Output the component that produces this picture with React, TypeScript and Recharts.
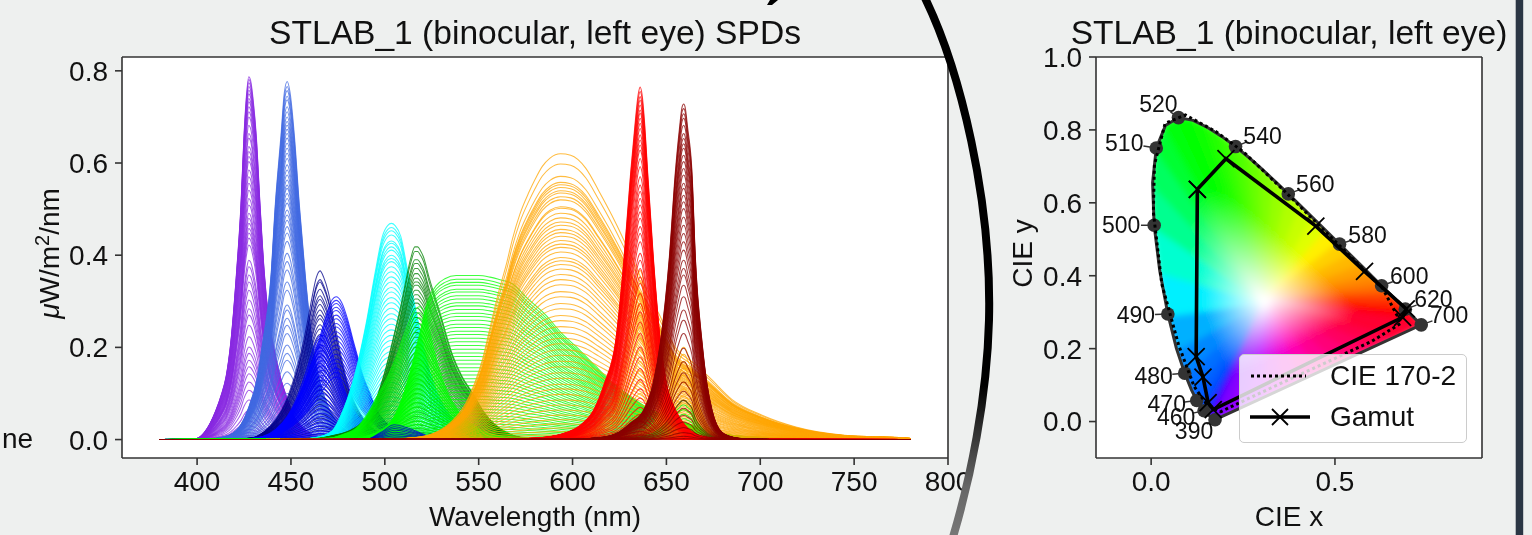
import React from 'react';
import { Label, Legend, Line, LineChart, CartesianGrid, Scatter, ScatterChart, XAxis, YAxis } from 'recharts';

const FONT = '"Liberation Sans", Arial, sans-serif';
const INK = '#111';
const FRAME = '#333';
const BG = '#eef0ef';

const spdTicksX = [400, 450, 500, 550, 600, 650, 700, 750, 800];
const spdTicksY = [0, 0.2, 0.4, 0.6, 0.8];
const cieTicksX = [0, 0.5];
const cieTicksY = [0, 0.2, 0.4, 0.6, 0.8, 1];

// Band outlines, as (wavelength, fraction of that band's peak)
const violetWl = [380, 395, 400, 404, 407, 410, 413, 415.5, 418, 421, 423.4, 425, 426.5, 427.5, 428.5, 430, 431.5, 433.5, 435.8, 438, 441, 444, 447.5, 452, 458, 465, 480, 780];
const violetBand = [0, 0.001, 0.003, 0.02, 0.045, 0.08, 0.125, 0.175, 0.27, 0.46, 0.65, 0.84, 0.96, 1, 0.99, 0.93, 0.84, 0.65, 0.46, 0.34, 0.25, 0.18, 0.12, 0.06, 0.025, 0.008, 0.001, 0];
const royalWl = [380, 405, 415, 422.5, 427, 432.3, 434.9, 439.4, 441.7, 444.7, 446.5, 448, 449.5, 451.8, 454.4, 457.6, 461.4, 465, 470, 476, 485, 500, 780];
const royalBand = [0, 0.001, 0.008, 0.035, 0.083, 0.18, 0.27, 0.46, 0.66, 0.85, 0.97, 1, 0.97, 0.85, 0.66, 0.46, 0.27, 0.17, 0.09, 0.04, 0.012, 0.002, 0];
const navyWl = [380, 420, 430, 436, 442, 447, 451, 455, 458.5, 461, 463.5, 465.5, 467.5, 470, 473, 477, 481, 486, 492, 500, 510, 780];
const navyBand = [0, 0.002, 0.012, 0.05, 0.12, 0.22, 0.34, 0.5, 0.68, 0.83, 0.96, 1, 0.96, 0.87, 0.7, 0.48, 0.3, 0.17, 0.08, 0.03, 0.008, 0];
const blueHighWl = [380, 425, 435, 442, 448, 454, 460, 465, 469, 472, 474, 477, 480, 483, 485.5, 488, 491.6, 496, 502, 510, 520, 780];
const blueHighBand = [0, 0.003, 0.02, 0.07, 0.16, 0.3, 0.5, 0.7, 0.88, 0.98, 1, 0.96, 0.85, 0.7, 0.58, 0.46, 0.34, 0.2, 0.1, 0.035, 0.008, 0];
const blueLowWl = [380, 425, 435, 442, 448, 453, 458, 462, 465, 467, 470, 474, 478, 483, 489, 496, 505, 520, 780];
const blueLowBand = [0, 0.004, 0.03, 0.1, 0.22, 0.4, 0.65, 0.88, 0.99, 1, 0.92, 0.72, 0.5, 0.3, 0.15, 0.06, 0.02, 0.003, 0];
const blueTailWl = [380, 490, 498, 505, 512, 520, 528, 780];
const blueTailBand = [0, 0, 0.5, 1, 0.8, 0.4, 0.05, 0];
const cyanWl = [380, 455, 465, 472, 478, 484.6, 490, 495.2, 498.7, 501.5, 503.5, 505.5, 508.5, 512, 516.5, 521.8, 526, 530.4, 535, 539.5, 547, 560, 780];
const cyanBand = [0, 0.002, 0.012, 0.04, 0.14, 0.32, 0.535, 0.79, 0.94, 0.99, 1, 0.99, 0.94, 0.79, 0.6, 0.385, 0.26, 0.17, 0.11, 0.065, 0.025, 0.005, 0];
const limeNarrowWl = [380, 470, 478, 485, 491, 495.6, 501, 506, 510, 514, 517, 518.6, 520, 523, 527.5, 533, 540, 548, 558, 575, 780];
const limeNarrowBand = [0, 0.01, 0.04, 0.09, 0.2, 0.32, 0.46, 0.62, 0.78, 0.92, 0.99, 1, 0.98, 0.86, 0.6, 0.37, 0.2, 0.1, 0.035, 0.005, 0];
const limeBroadWl = [380, 480, 495, 505, 512, 518, 523, 527.5, 532, 538, 545, 550, 556, 561, 567.9, 576, 585.6, 594, 603.4, 612, 621, 630, 639, 647, 656.5, 665, 674, 700, 780];
const limeBroadBand = [0, 0.002, 0.04, 0.14, 0.35, 0.62, 0.85, 0.94, 0.98, 1, 1, 1, 0.99, 0.975, 0.95, 0.86, 0.76, 0.65, 0.55, 0.45, 0.35, 0.27, 0.2, 0.155, 0.118, 0.08, 0.045, 0.014, 0];
const greenWl = [380, 460, 472, 482, 490, 495, 500.5, 505.8, 508, 510.3, 513.8, 516, 517.5, 519, 520.5, 523.6, 529, 536, 541, 546.8, 553, 561, 575, 780];
const greenBand = [0, 0.002, 0.02, 0.05, 0.11, 0.2, 0.37, 0.58, 0.67, 0.78, 0.94, 1, 1, 0.98, 0.95, 0.84, 0.67, 0.44, 0.33, 0.24, 0.14, 0.06, 0.01, 0];
const orangeWl = [380, 500, 515, 525.4, 535, 543, 548, 552, 556, 560.8, 565, 567.9, 572, 576.8, 580, 583.9, 588, 593.6, 599, 607, 614, 621, 626.5, 632, 639, 646, 655, 664, 672.5, 685, 701, 719, 745, 779, 780];
const orangeBand = [0, 0.001, 0.006, 0.02, 0.06, 0.125, 0.2, 0.28, 0.39, 0.52, 0.62, 0.7, 0.79, 0.866, 0.91, 0.956, 0.985, 1, 0.995, 0.95, 0.87, 0.784, 0.71, 0.63, 0.53, 0.44, 0.32, 0.27, 0.22, 0.14, 0.085, 0.044, 0.015, 0.005, 0.004];
const redWl = [380, 560, 580, 594.5, 604, 611.3, 617, 622.9, 627.5, 631, 633.2, 635, 636, 637, 638.5, 640, 643, 646.8, 650, 654.8, 660, 665.4, 675, 690, 780];
const redBand = [0, 0.001, 0.004, 0.016, 0.04, 0.084, 0.16, 0.277, 0.52, 0.76, 0.89, 0.98, 1, 0.98, 0.89, 0.76, 0.52, 0.277, 0.16, 0.084, 0.04, 0.016, 0.004, 0.001, 0];
const darkRedWl = [380, 600, 615, 624.7, 631, 637.9, 643, 646.8, 651.6, 654.8, 657, 658.3, 659.2, 660, 661.3, 663.6, 665.4, 669, 671.5, 674.3, 679.5, 686, 691.7, 705, 780];
const darkRedBand = [0, 0.001, 0.006, 0.022, 0.05, 0.088, 0.17, 0.29, 0.546, 0.8, 0.93, 0.99, 1, 0.99, 0.93, 0.8, 0.546, 0.29, 0.17, 0.088, 0.022, 0.006, 0.002, 0.0005, 0];

const violetPeaks = [0.787, 0.781, 0.774, 0.766, 0.758, 0.75, 0.74, 0.733, 0.722, 0.711, 0.7, 0.682, 0.664, 0.654, 0.636, 0.625, 0.614, 0.603, 0.585, 0.57, 0.556, 0.541, 0.523, 0.509, 0.491, 0.48, 0.469, 0.458, 0.448, 0.437, 0.422, 0.389, 0.375, 0.357, 0.342, 0.324, 0.303, 0.284, 0.27, 0.248, 0.223, 0.201, 0.187, 0.172, 0.158, 0.143, 0.125, 0.107, 0.086, 0.064, 0.05, 0.04, 0.03, 0.022, 0.015, 0.009, 0.005, 0.002];
const royalPeaks = [0.777, 0.766, 0.757, 0.745, 0.737, 0.722, 0.711, 0.7, 0.69, 0.682, 0.673, 0.664, 0.654, 0.643, 0.632, 0.621, 0.61, 0.596, 0.585, 0.574, 0.563, 0.552, 0.545, 0.534, 0.523, 0.513, 0.498, 0.487, 0.476, 0.462, 0.448, 0.43, 0.404, 0.386, 0.368, 0.342, 0.324, 0.292, 0.281, 0.263, 0.248, 0.23, 0.205, 0.187, 0.172, 0.147, 0.122, 0.1, 0.085, 0.07, 0.055, 0.042, 0.03, 0.02, 0.012, 0.006, 0.002];
const navyPeaks = [0.366, 0.347, 0.342, 0.326, 0.312, 0.304, 0.293, 0.281, 0.27, 0.262, 0.249, 0.24, 0.228, 0.219, 0.207, 0.2, 0.188, 0.179, 0.166, 0.158, 0.147, 0.136, 0.128, 0.116, 0.107, 0.095, 0.087, 0.076, 0.067, 0.056, 0.047, 0.038, 0.029, 0.02, 0.012, 0.005];
const blueHighPeaks = [0.31, 0.302, 0.295, 0.287, 0.28, 0.27, 0.262, 0.252, 0.244, 0.234, 0.225, 0.215, 0.205, 0.196, 0.185, 0.175, 0.166, 0.155, 0.146, 0.135];
const blueLowPeaks = [0.226, 0.215, 0.204, 0.193, 0.182, 0.171, 0.16, 0.15, 0.139, 0.129, 0.119, 0.109, 0.1, 0.09, 0.082, 0.073, 0.065, 0.057, 0.05, 0.043, 0.036, 0.03, 0.024, 0.018, 0.013, 0.008, 0.004];
const blueTailPeaks = [0.032, 0.028, 0.024, 0.02, 0.016, 0.012, 0.008, 0.004];
const cyanPeaks = [0.469, 0.46, 0.453, 0.444, 0.431, 0.426, 0.418, 0.411, 0.4, 0.393, 0.386, 0.375, 0.364, 0.353, 0.342, 0.33, 0.32, 0.308, 0.297, 0.285, 0.273, 0.262, 0.25, 0.238, 0.226, 0.215, 0.203, 0.191, 0.18, 0.168, 0.157, 0.146, 0.135, 0.124, 0.113, 0.103, 0.093, 0.083, 0.073, 0.064, 0.055, 0.046, 0.038, 0.03, 0.023, 0.016, 0.01, 0.005];
const limeNarrowPeaks = [0.288, 0.275, 0.264, 0.252, 0.24, 0.23, 0.218, 0.206, 0.195, 0.184, 0.172, 0.161, 0.15, 0.14, 0.13, 0.12, 0.11, 0.1, 0.09, 0.081, 0.072, 0.063, 0.055, 0.047, 0.04, 0.033, 0.026, 0.02, 0.014, 0.009, 0.004];
const limeBroadPeaks = [0.356, 0.348, 0.341, 0.335, 0.326, 0.32, 0.312, 0.305, 0.297, 0.29, 0.282, 0.274, 0.267, 0.259, 0.25, 0.243, 0.235, 0.228, 0.22, 0.212, 0.204, 0.196, 0.188, 0.18, 0.172, 0.164, 0.156, 0.148, 0.14, 0.132, 0.125, 0.117, 0.109, 0.102, 0.094, 0.087, 0.08, 0.073, 0.066, 0.059, 0.052, 0.046, 0.04, 0.034, 0.028, 0.023, 0.018, 0.013, 0.009, 0.005];
const greenPeaks = [0.418, 0.408, 0.39, 0.382, 0.371, 0.36, 0.35, 0.342, 0.335, 0.324, 0.314, 0.305, 0.296, 0.285, 0.275, 0.265, 0.254, 0.243, 0.232, 0.222, 0.21, 0.2, 0.188, 0.177, 0.165, 0.154, 0.143, 0.132, 0.121, 0.11, 0.1, 0.09, 0.08, 0.07, 0.06, 0.05, 0.04, 0.032, 0.024, 0.016, 0.01, 0.005];
const orangePeaks = [0.62, 0.598, 0.571, 0.558, 0.553, 0.547, 0.54, 0.535, 0.527, 0.52, 0.505, 0.502, 0.491, 0.481, 0.472, 0.465, 0.456, 0.449, 0.441, 0.432, 0.424, 0.417, 0.407, 0.395, 0.388, 0.38, 0.37, 0.358, 0.347, 0.336, 0.321, 0.31, 0.295, 0.284, 0.269, 0.258, 0.245, 0.232, 0.22, 0.208, 0.195, 0.183, 0.17, 0.158, 0.145, 0.133, 0.12, 0.11, 0.098, 0.086, 0.075, 0.064, 0.053, 0.043, 0.034, 0.025, 0.017, 0.01, 0.005, 0.002];
const orange636Peaks = [0.367, 0.345, 0.32, 0.295, 0.27, 0.245, 0.22, 0.195, 0.17, 0.15, 0.125, 0.1];
const orange658Peaks = [0.2, 0.185, 0.17, 0.155, 0.14, 0.125, 0.11, 0.095, 0.08, 0.065];
const lime658Peaks = [0.085, 0.075, 0.065, 0.055, 0.045, 0.035, 0.025, 0.015];
const redPeaks = [0.765, 0.755, 0.744, 0.736, 0.726, 0.715, 0.708, 0.697, 0.686, 0.675, 0.661, 0.65, 0.639, 0.628, 0.61, 0.592, 0.57, 0.552, 0.538, 0.523, 0.509, 0.494, 0.48, 0.462, 0.447, 0.429, 0.404, 0.389, 0.371, 0.353, 0.339, 0.317, 0.295, 0.277, 0.255, 0.23, 0.201, 0.179, 0.154, 0.13, 0.11, 0.09, 0.07, 0.055, 0.04, 0.028, 0.018, 0.01, 0.004];
const darkRedPeaks = [0.728, 0.718, 0.707, 0.697, 0.682, 0.664, 0.653, 0.642, 0.632, 0.617, 0.603, 0.588, 0.574, 0.556, 0.545, 0.53, 0.516, 0.501, 0.483, 0.465, 0.447, 0.429, 0.411, 0.389, 0.371, 0.357, 0.335, 0.31, 0.281, 0.259, 0.23, 0.198, 0.169, 0.145, 0.125, 0.105, 0.085, 0.068, 0.052, 0.038, 0.026, 0.015, 0.007, 0.002];

// Draw order follows the reference: later groups sit on top
const spdGroups: [string, number[], number[], number[]][] = [
    ['#8a2be2', violetWl, violetBand, violetPeaks],
    ['#4169e1', royalWl, royalBand, royalPeaks],
    ['#00008b', navyWl, navyBand, navyPeaks],
    ['#0000ff', blueLowWl, blueLowBand, blueLowPeaks],
    ['#0000ff', blueHighWl, blueHighBand, blueHighPeaks],
    ['#00ffff', cyanWl, cyanBand, cyanPeaks],
    ['#008000', greenWl, greenBand, greenPeaks],
    ['#00ff00', limeNarrowWl, limeNarrowBand, limeNarrowPeaks],
    ['#00ff00', limeBroadWl, limeBroadBand, limeBroadPeaks],
    ['#0000cc', blueTailWl, blueTailBand, blueTailPeaks],
    ['#ffa500', orangeWl, orangeBand, orangePeaks],
    ['#ffa500', redWl, redBand, orange636Peaks],
    ['#ffa500', darkRedWl, darkRedBand, orange658Peaks],
    ['#00ff00', darkRedWl, darkRedBand, lime658Peaks],
    ['#ff0000', redWl, redBand, redPeaks],
    ['#8b0000', darkRedWl, darkRedBand, darkRedPeaks],
];

const spdCurves = spdGroups.flatMap(([color, wl, band, peaks], g) =>
    peaks.map((peak, p) => ({
        key: `${g}-${p}`,
        color,
        data: wl.map((w, i) => ({ wl: w, v: band[i] * peak })),
    })),
);

// CIE 1931 spectral locus
const locusX = [0.1741, 0.1738, 0.1733, 0.1726, 0.1714, 0.1689, 0.1644, 0.1566, 0.144, 0.1355, 0.1241, 0.1096, 0.0913, 0.0687, 0.0454, 0.0235, 0.0082, 0.0039, 0.0139, 0.0389, 0.0743, 0.1142, 0.1547, 0.1929, 0.2296, 0.2658, 0.3016, 0.3373, 0.3731, 0.4087, 0.4441, 0.4788, 0.5125, 0.5448, 0.5752, 0.6029, 0.627, 0.6482, 0.6658, 0.6915, 0.7079, 0.719, 0.726, 0.73, 0.7334, 0.7347];
const locusY = [0.005, 0.0049, 0.0048, 0.0048, 0.0051, 0.0069, 0.0109, 0.0177, 0.0297, 0.0399, 0.0578, 0.0868, 0.1327, 0.2007, 0.295, 0.4127, 0.5384, 0.6548, 0.7502, 0.812, 0.8338, 0.8262, 0.8059, 0.7816, 0.7543, 0.7243, 0.6923, 0.6589, 0.6245, 0.5896, 0.5547, 0.5202, 0.4866, 0.4544, 0.4242, 0.3965, 0.3725, 0.3514, 0.334, 0.3083, 0.292, 0.2809, 0.274, 0.27, 0.2666, 0.2653];
const locusColors = ['#7000ff', '#6800ff', '#6000ff', '#5800ff', '#5000ff', '#4800ff', '#4000ff', '#3000ff', '#0040ff', '#0050ff', '#0060ff', '#0070ff', '#0088ff', '#00b0ff', '#00f0ff', '#00ffd0', '#00ff90', '#00ff60', '#00ff30', '#00ff10', '#00ff00', '#10ff00', '#20ff00', '#38ff00', '#50ff00', '#68ff00', '#80ff00', '#98ff00', '#b0ff00', '#c8ff00', '#e0ff00', '#fff000', '#ffd000', '#ffb800', '#ffa000', '#ff8800', '#ff7000', '#ff5000', '#ff3000', '#ff1000', '#ff0008', '#ff0010', '#ff0018', '#ff0020', '#ff0028', '#ff0030'];

// Line of purples, from the 700 nm end back to the violet end
const purpleX = [0.65, 0.6, 0.55, 0.5, 0.45, 0.4, 0.35, 0.3, 0.25, 0.2];
const purpleY = [0.226, 0.203, 0.18, 0.156, 0.133, 0.11, 0.087, 0.064, 0.04, 0.017];
const purpleColors = ['#ff0048', '#ff0060', '#ff0078', '#ff0090', '#ff00b0', '#f000d0', '#d800e8', '#b800ff', '#9800ff', '#8000ff'];
const whitePoint = { x: 0.31, y: 0.33 };

const cie1702X = [0.187, 0.3, 0.45, 0.6, 0.68, 0.63, 0.51, 0.37, 0.252, 0.177, 0.093, 0.038, 0.009, 0.006, 0.029, 0.075, 0.117, 0.149, 0.187];
const cie1702Y = [0.026, 0.08, 0.15, 0.22, 0.27, 0.365, 0.485, 0.625, 0.739, 0.795, 0.841, 0.818, 0.705, 0.574, 0.377, 0.209, 0.096, 0.05, 0.026];

const gamutX = [0.1257, 0.2035, 0.448, 0.5805, 0.694, 0.684, 0.169, 0.155, 0.141, 0.1225, 0.1257];
const gamutY = [0.637, 0.721, 0.536, 0.412, 0.309, 0.286, 0.033, 0.052, 0.122, 0.178, 0.637];

const markerNames = ['390', '460', '470', '480', '490', '500', '510', '520', '540', '560', '580', '600', '620', '700'];
const markerX = [0.1738, 0.144, 0.1241, 0.0913, 0.0454, 0.0082, 0.0139, 0.0743, 0.2296, 0.3731, 0.5125, 0.627, 0.6915, 0.7347];
const markerY = [0.0049, 0.0297, 0.0578, 0.1327, 0.295, 0.5384, 0.7502, 0.8338, 0.7543, 0.6245, 0.4866, 0.3725, 0.3083, 0.2653];
const markerLabelDx = [-21, -28, -30, -31, -32, -33, -32, -20, 27, 27, 28, 27.6, 28, 28];
const markerLabelDy = [11, 6, 4, 3, 1, 0, -5, -14, -11, -10, -9, -10, -10, -10];

const zip = (xs: number[], ys: number[]) => xs.map((x, i) => ({ x, y: ys[i] }));
const locusPoints = zip(locusX, locusY);
const fanPoints = [whitePoint, ...locusPoints, ...zip(purpleX, purpleY)];
const fanColors = [...locusColors, ...purpleColors];
const markerPoints = markerNames.map((name, i) => ({ name, x: markerX[i], y: markerY[i], dx: markerLabelDx[i], dy: markerLabelDy[i] }));

const frameLine = { stroke: FRAME, strokeWidth: 1.6 };
const tickStyle = { fill: INK, fontSize: 28, fontFamily: FONT };
const oneDecimal = (v: number) => v.toFixed(1);

const noShape = () => <g />;

// Colour wedges from the white point out to the rim, softened and cut to the rim shape
const renderFan = ({ points }: any) => {
    const [c, ...rim] = points;
    return (
        <g>
            <defs>
                <clipPath id="fan-rim">
                    <polygon points={rim.map((p: any) => `${p.x},${p.y}`).join(' ')} />
                </clipPath>
                <filter id="fan-soft">
                    <feGaussianBlur stdDeviation={3} />
                </filter>
            </defs>
            <g clipPath="url(#fan-rim)">
                <g filter="url(#fan-soft)">
                    {rim.map((p: any, i: number) => {
                        const q = rim[(i + 1) % rim.length];
                        const id = `fan-${i}`;
                        const reach = Math.hypot((p.x + q.x) / 2 - c.x, (p.y + q.y) / 2 - c.y);
                        return (
                            <g key={id}>
                                <defs>
                                    <radialGradient id={id} gradientUnits="userSpaceOnUse" cx={c.x} cy={c.y} r={reach}>
                                        <stop offset="0.03" stopColor="#fff" />
                                        <stop offset="0.62" stopColor={fanColors[i]} />
                                    </radialGradient>
                                </defs>
                                <polygon points={`${c.x},${c.y} ${p.x},${p.y} ${q.x},${q.y}`} fill={`url(#${id})`} stroke={`url(#${id})`} strokeWidth={5} />
                            </g>
                        );
                    })}
                </g>
            </g>
        </g>
    );
};

const renderMarker = ({ cx, cy, payload }: any) => {
    const { name, dx, dy } = payload;
    return (
        <g>
            <line x1={cx} y1={cy} x2={cx + dx * 0.4} y2={cy + dy * 0.4} stroke={FRAME} strokeWidth={1.5} />
            <circle cx={cx} cy={cy} r={6.8} fill={FRAME} />
            <text x={cx + dx} y={cy + dy + 8} textAnchor="middle" fontSize={23} fontFamily={FONT} fill={INK}>
                {name}
            </text>
        </g>
    );
};

const renderCross = ({ cx, cy }: any) => (
    <path d={`M${cx - 8.5} ${cy - 8.5}L${cx + 8.5} ${cy + 8.5}M${cx - 8.5} ${cy + 8.5}L${cx + 8.5} ${cy - 8.5}`} stroke="#000" strokeWidth={1.8} fill="none" />
);

const VerticalTitle = ({ viewBox, x, children }: any) => {
    const y = viewBox.y + viewBox.height / 2 - 4;
    return (
        <text transform={`translate(${x} ${y}) rotate(-90)`} textAnchor="middle" fontSize={28} fontFamily={FONT} fill={INK}>
            {children}
        </text>
    );
};

const GamutLegend = () => (
    <div style={{ boxSizing: 'border-box', width: 228, height: 89, background: 'rgba(255,255,255,0.8)', border: '1.5px solid #ccc', borderRadius: 5, position: 'relative', fontFamily: FONT, fontSize: 28, color: INK }}>
        <svg width={80} height={89} style={{ position: 'absolute', left: 0, top: 0 }}>
            <line x1={11} x2={66} y1={21} y2={21} stroke="#000" strokeWidth={3} strokeDasharray="3 3" />
            <line x1={10} x2={70} y1={62} y2={62} stroke="#000" strokeWidth={3.6} />
            <path d="M32 54L48 70M32 70L48 54" stroke="#000" strokeWidth={1.8} />
        </svg>
        <div style={{ position: 'absolute', left: 90, top: 5 }}>CIE 170-2</div>
        <div style={{ position: 'absolute', left: 90, top: 46 }}>Gamut</div>
    </div>
);

const App: React.FC = () => (
    <div style={{ position: 'absolute', left: 0, top: 0, width: 1532, height: 535, overflow: 'hidden', background: BG, filter: 'blur(0.45px)' }}>
        <div style={{ position: 'absolute', left: 0, top: 0 }}>
            <LineChart width={1000} height={535} margin={{ top: 56, right: 51, bottom: 17, left: 62 }}>
                <CartesianGrid horizontal={false} vertical={false} fill="#fff" />
                <XAxis type="number" dataKey="wl" domain={[360, 800]} ticks={spdTicksX} interval={0} height={60} axisLine={frameLine} tickLine={frameLine} tickSize={7} tickMargin={6} tick={tickStyle}>
                    <Label value="Wavelength (nm)" position="insideBottom" offset={-8} fontSize={28} fontFamily={FONT} fill={INK} />
                </XAxis>
                <YAxis type="number" domain={[-0.04, 0.83]} ticks={spdTicksY} tickFormatter={oneDecimal} interval={0} width={60} axisLine={frameLine} tickLine={frameLine} tickSize={7} tickMargin={7} tick={tickStyle}>
                    <Label
                        content={(p: any) => (
                            <VerticalTitle viewBox={p.viewBox} x={59}>
                                <tspan fontStyle="italic">μ</tspan>W/m<tspan dy={-10} fontSize={20}>2</tspan><tspan dy={10}>/nm</tspan>
                            </VerticalTitle>
                        )}
                    />
                </YAxis>
                <XAxis xAxisId="frame" orientation="top" type="number" domain={[360, 800]} height={1} tick={false} tickLine={false} axisLine={frameLine}>
                    <Label value="STLAB_1 (binocular, left eye) SPDs" position="top" offset={12} fontSize={33.6} fontFamily={FONT} fill={INK} />
                </XAxis>
                <YAxis yAxisId="frame" orientation="right" type="number" domain={[-0.04, 0.83]} width={1} tick={false} tickLine={false} axisLine={frameLine} />
                {spdCurves.map((c) => (
                    <Line key={c.key} data={c.data} dataKey="v" type="monotoneX" stroke={c.color} strokeWidth={1.05} strokeOpacity={0.75} dot={false} activeDot={false} legendType="none" isAnimationActive={false} />
                ))}
            </LineChart>
        </div>
        <div style={{ position: 'absolute', left: 1000, top: 0 }}>
            <ScatterChart width={532} height={535} margin={{ top: 56, right: 49, bottom: 17, left: 36 }}>
                <CartesianGrid horizontal={false} vertical={false} fill="#fff" />
                <XAxis type="number" dataKey="x" domain={[-0.15, 0.9]} ticks={cieTicksX} tickFormatter={oneDecimal} interval={0} height={60} axisLine={frameLine} tickLine={frameLine} tickSize={7} tickMargin={6} tick={tickStyle}>
                    <Label value="CIE x" position="insideBottom" offset={-8} fontSize={28} fontFamily={FONT} fill={INK} />
                </XAxis>
                <YAxis type="number" dataKey="y" domain={[-0.1, 1]} ticks={cieTicksY} tickFormatter={oneDecimal} interval={0} width={60} axisLine={frameLine} tickLine={frameLine} tickSize={7} tickMargin={7} tick={tickStyle}>
                    <Label content={(p: any) => <VerticalTitle viewBox={p.viewBox} x={32}>CIE y</VerticalTitle>} />
                </YAxis>
                <XAxis xAxisId="frame" orientation="top" type="number" dataKey="x" domain={[-0.15, 0.9]} height={1} tick={false} tickLine={false} axisLine={frameLine}>
                    <Label value="STLAB_1 (binocular, left eye)" position="top" offset={12} fontSize={33.6} fontFamily={FONT} fill={INK} />
                </XAxis>
                <YAxis yAxisId="frame" orientation="right" type="number" dataKey="y" domain={[-0.1, 1]} width={1} tick={false} tickLine={false} axisLine={frameLine} />
                <Scatter data={fanPoints} line={renderFan} shape={noShape} legendType="none" isAnimationActive={false} />
                <Scatter data={[...locusPoints, locusPoints[0]]} line={{ stroke: FRAME, strokeWidth: 3 }} shape={noShape} legendType="none" isAnimationActive={false} />
                <Scatter data={markerPoints} shape={renderMarker} legendType="none" isAnimationActive={false} />
                <Scatter data={zip(cie1702X, cie1702Y)} line={{ stroke: '#000', strokeWidth: 3, strokeDasharray: '3 3' }} shape={noShape} legendType="none" isAnimationActive={false} />
                <Scatter data={zip(gamutX, gamutY)} line={{ stroke: '#000', strokeWidth: 3.6 }} shape={renderCross} legendType="none" isAnimationActive={false} />
                <Legend layout="horizontal" align="center" verticalAlign="middle" content={GamutLegend} wrapperStyle={{ left: 239, top: 354, width: 228 }} />
            </ScatterChart>
        </div>
        {/* Parts of the surrounding slide that the crop caught */}
        <svg width={1532} height={535} style={{ position: 'absolute', left: 0, top: 0 }}>
            <defs>
                <linearGradient id="arc-fade" gradientUnits="userSpaceOnUse" x1={0} y1={0} x2={0} y2={535}>
                    <stop offset="0.72" stopColor="#000" />
                    <stop offset="0.81" stopColor="#333" />
                    <stop offset="0.91" stopColor="#666" />
                    <stop offset="1" stopColor="#777" />
                </linearGradient>
            </defs>
            <path d="M925 -2C960 70 992 200 989 320C987 400 970 480 953 537" fill="none" stroke="url(#arc-fade)" strokeWidth={8} />
            <path d="M767 5L772 5L778 0L770 0Z" fill="#000" />
            <rect x={1515.7} y={0} width={7.5} height={535} fill="#2b3644" />
            <text x={2} y={448} fontSize={28} fontFamily={FONT} fill={INK}>ne</text>
        </svg>
    </div>
);

export default App;
